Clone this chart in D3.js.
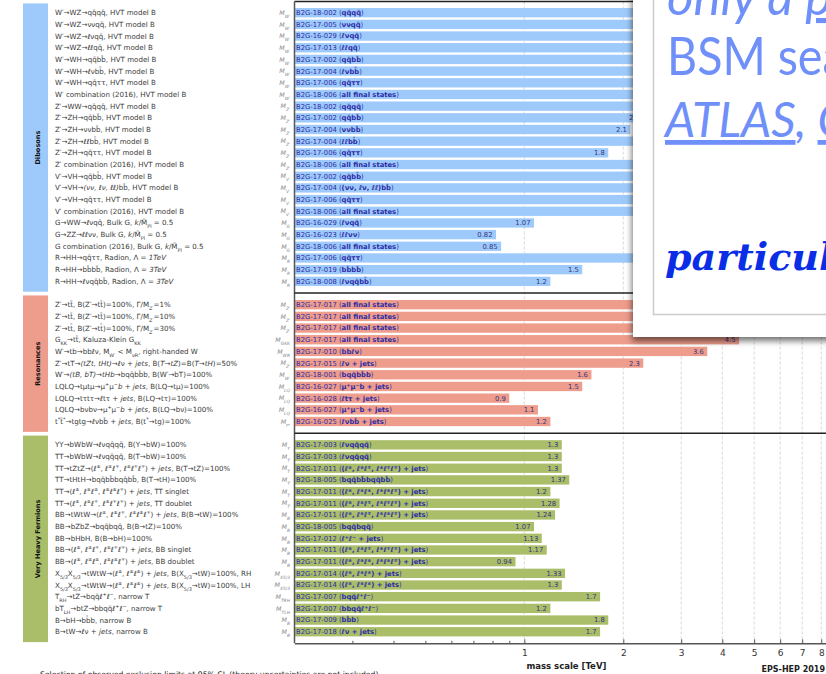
<!DOCTYPE html>
<html>
<head>
<meta charset="utf-8">
<script src="https://cdn.jsdelivr.net/npm/d3@7"></script>
<style>
  html, body { margin: 0; padding: 0; background: #fff; }
  svg { display: block; }
</style>
</head>
<body>
<svg id="chart" width="826" height="674"></svg>
<script>
// ---------------------------------------------------------------------------
// CMS B2G summary of observed exclusion limits (mass scale in TeV)
// Markup in strings: _{..} subscript, ^{..} superscript, ~{..} italic
// ---------------------------------------------------------------------------
const groupNames  = ["Dibosons", "Resonances", "Very Heavy Fermions"];
const groupColors = ["#9ecafb", "#ee9c8b", "#aabe69"];

const dibosonLabels = [
  "W′→WZ→qq\u0304qq\u0304, HVT model B",
  "W′→WZ→ννqq\u0304, HVT model B",
  "W′→WZ→ℓνqq\u0304, HVT model B",
  "W′→WZ→ℓℓqq\u0304, HVT model B",
  "W′→WH→qq\u0304bb\u0304, HVT model B",
  "W′→WH→ℓνbb\u0304, HVT model B",
  "W′→WH→qq\u0304ττ, HVT model B",
  "W′ combination (2016), HVT model B",
  "Z′→WW→qq\u0304qq\u0304, HVT model B",
  "Z′→ZH→qq\u0304bb\u0304, HVT model B",
  "Z′→ZH→ννbb\u0304, HVT model B",
  "Z′→ZH→ℓℓbb\u0304, HVT model B",
  "Z′→ZH→qq\u0304ττ, HVT model B",
  "Z′ combination (2016), HVT model B",
  "V′→VH→qq\u0304bb\u0304, HVT model B",
  "V′→VH→~{(νν, ℓν, ℓℓ)}bb\u0304, HVT model B",
  "V′→VH→qq\u0304ττ, HVT model B",
  "V′ combination (2016), HVT model B",
  "G→WW→ℓνqq\u0304, Bulk G, ~{k}/M\u0304_{Pl} = 0.5",
  "G→ZZ→ℓℓνν, Bulk G, ~{k}/M\u0304_{Pl} = 0.5",
  "G combination (2016), Bulk G, ~{k}/M\u0304_{Pl} = 0.5",
  "R→HH→qq\u0304ττ, Radion, Λ = ~{1TeV}",
  "R→HH→bb\u0304bb\u0304, Radion, Λ = ~{3TeV}",
  "R→HH→ℓνqq\u0304bb\u0304, Radion, Λ = ~{3TeV}"
];
const dibosonMass = [
  "M_{W′}", "M_{W′}", "M_{W′}", "M_{W′}", "M_{W′}", "M_{W′}", "M_{W′}", "M_{W′}",
  "M_{Z′}", "M_{Z′}", "M_{Z′}", "M_{Z′}", "M_{Z′}", "M_{Z′}",
  "M_{V′}", "M_{V′}", "M_{V′}", "M_{V′}",
  "M_{G}", "M_{G}", "M_{G}", "M_{R}", "M_{R}", "M_{R}"
];
const dibosonAnalyses = [
  "B2G-18-002", "B2G-17-005", "B2G-16-029", "B2G-17-013", "B2G-17-002", "B2G-17-004",
  "B2G-17-006", "B2G-18-006", "B2G-18-002", "B2G-17-002", "B2G-17-004", "B2G-17-004",
  "B2G-17-006", "B2G-18-006", "B2G-17-002", "B2G-17-004", "B2G-17-006", "B2G-18-006",
  "B2G-16-029", "B2G-16-023", "B2G-18-006", "B2G-17-006", "B2G-17-019", "B2G-18-008"
];
const dibosonFinals = [
  "qq\u0304qq\u0304", "ννqq\u0304", "ℓνqq\u0304", "ℓℓqq\u0304", "qq\u0304bb\u0304", "ℓνbb\u0304",
  "qq\u0304ττ", "all final states", "qq\u0304qq\u0304", "qq\u0304bb\u0304", "ννbb\u0304", "ℓℓbb\u0304",
  "qq\u0304ττ", "all final states", "qq\u0304bb\u0304", "(νν, ℓν, ℓℓ)bb\u0304", "qq\u0304ττ", "all final states",
  "ℓνqq\u0304", "ℓℓνν", "all final states", "qq\u0304ττ", "bb\u0304bb\u0304", "ℓνqq\u0304bb\u0304"
];
const dibosonLimits = [
  3.8, 3.5, 2.9, 2.6, 2.5, 2.8, 2.7, 4.5,
  3.6, 2.3, 2.1, 2.5, 1.8, 4.1,
  2.8, 2.9, 2.7, 4.6,
  1.07, 0.82, 0.85, 2.7, 1.5, 1.2
];

const resonanceLabels = [
  "Z′→tt\u0304, B(Z′→tt\u0304)=100%, Γ/M_{Z′}=1%",
  "Z′→tt\u0304, B(Z′→tt\u0304)=100%, Γ/M_{Z′}=10%",
  "Z′→tt\u0304, B(Z′→tt\u0304)=100%, Γ/M_{Z′}=30%",
  "G_{KK}→tt\u0304, Kaluza-Klein G_{KK}",
  "W′→tb→bbℓν, M_{W′} < M_{νR}, right-handed W",
  "Z′→tT→~{(tZt, tHt)}→ℓν + ~{jets}, B(~{T}→~{tZ})=B(~{T}→~{tH})=50%",
  "W′→~{(tB, bT)}→~{tHb}→bqq\u0304bb\u0304b, B(W′→bT)=100%",
  "LQLQ→tμtμ→μ^{+}μ^{−}~{b + jets}, B(LQ→tμ)=100%",
  "LQLQ→tτtτ→ℓtτ + ~{jets}, B(LQ→tτ)=100%",
  "LQLQ→bνbν→μ^{+}μ^{−}~{b + jets}, B(LQ→bν)=100%",
  "t^{*}t\u0304^{*}→tgtg→ℓνbb\u0304 + ~{jets}, B(t^{*}→tg)=100%"
];
const resonanceMass = [
  "M_{Z′}", "M_{Z′}", "M_{Z′}", "M_{GKK}", "M_{WR}", "M_{Z′}", "M_{W′}",
  "M_{LQ}", "M_{LQ}", "M_{LQ}", "M_{t*}"
];
const resonanceAnalyses = [
  "B2G-17-017", "B2G-17-017", "B2G-17-017", "B2G-17-017", "B2G-17-010", "B2G-17-015",
  "B2G-18-001", "B2G-16-027", "B2G-16-028", "B2G-16-027", "B2G-16-025"
];
const resonanceFinals = [
  "all final states", "all final states", "all final states", "all final states", "bbℓν",
  "ℓν + jets", "bqq\u0304bb\u0304b", "μ^{+}μ^{−}b + jets", "ℓtτ + jets", "μ^{+}μ^{−}b + jets",
  "ℓνbb\u0304 + jets"
];
const resonanceLimits = [3.8, 5.25, 6.65, 4.5, 3.6, 2.3, 1.6, 1.5, 0.9, 1.1, 1.2];

const fermionLabels = [
  "YY→bWbW→ℓνqq\u0304qq\u0304, B(Y→bW)=100%",
  "TT→bWbW→ℓνqq\u0304qq\u0304, B(T→bW)=100%",
  "TT→tZtZ→(ℓ^{±}, ℓ^{±}ℓ^{∓}, ℓ^{±}ℓ^{∓}ℓ^{∓}) + ~{jets}, B(T→tZ)=100%",
  "TT→tHtH→bqq\u0304bb\u0304bqq\u0304bb\u0304, B(T→tH)=100%",
  "TT→(ℓ^{±}, ℓ^{±}ℓ^{±}, ℓ^{±}ℓ^{±}ℓ^{∓}) + ~{jets}, TT singlet",
  "TT→(ℓ^{±}, ℓ^{±}ℓ^{∓}, ℓ^{±}ℓ^{∓}ℓ^{∓}) + ~{jets}, TT doublet",
  "BB→tWtW→(ℓ^{±}, ℓ^{±}ℓ^{∓}, ℓ^{±}ℓ^{±}ℓ^{∓}) + ~{jets}, B(B→tW)=100%",
  "BB→bZbZ→bqq\u0304bqq\u0304, B(B→tZ)=100%",
  "BB→bHbH, B(B→bH)=100%",
  "BB→(ℓ^{±}, ℓ^{±}ℓ^{∓}, ℓ^{±}ℓ^{∓}ℓ^{∓}) + ~{jets}, BB singlet",
  "BB→(ℓ^{±}, ℓ^{±}ℓ^{±}, ℓ^{±}ℓ^{±}ℓ^{∓}) + ~{jets}, BB doublet",
  "X_{5/3}X_{5/3}→tWtW→(ℓ^{±}, ℓ^{±}ℓ^{±}) + ~{jets}, B(X_{5/3}→tW)=100%, RH",
  "X_{5/3}X_{5/3}→tWtW→(ℓ^{±}, ℓ^{±}ℓ^{±}) + ~{jets}, B(X_{5/3}→tW)=100%, LH",
  "T_{RH}→tZ→bqq\u0304ℓ^{+}ℓ^{−}, narrow T",
  "bT_{LH}→btZ→bbqq\u0304ℓ^{+}ℓ^{−}, narrow T",
  "B→bH→bb\u0304b, narrow B",
  "B→tW→ℓν + ~{jets}, narrow B"
];
const fermionMass = [
  "M_{Y}", "M_{T}", "M_{T}", "M_{T}", "M_{T}", "M_{T}",
  "M_{B}", "M_{B}", "M_{B}", "M_{B}", "M_{B}",
  "M_{X5/3}", "M_{X5/3}", "M_{TRH}", "M_{TLH}", "M_{B}", "M_{B}"
];
const fermionAnalyses = [
  "B2G-17-003", "B2G-17-003", "B2G-17-011", "B2G-18-005", "B2G-17-011", "B2G-17-011",
  "B2G-17-011", "B2G-18-005", "B2G-17-012", "B2G-17-011", "B2G-17-011", "B2G-17-014",
  "B2G-17-014", "B2G-17-007", "B2G-17-007", "B2G-17-009", "B2G-17-018"
];
const fermionFinals = [
  "ℓνqq\u0304qq\u0304", "ℓνqq\u0304qq\u0304",
  "(ℓ^{±}, ℓ^{±}ℓ^{∓}, ℓ^{±}ℓ^{∓}ℓ^{∓}) + jets",
  "bqq\u0304bb\u0304bqq\u0304bb\u0304",
  "(ℓ^{±}, ℓ^{±}ℓ^{±}, ℓ^{±}ℓ^{±}ℓ^{∓}) + jets",
  "(ℓ^{±}, ℓ^{±}ℓ^{∓}, ℓ^{±}ℓ^{∓}ℓ^{∓}) + jets",
  "(ℓ^{±}, ℓ^{±}ℓ^{∓}, ℓ^{±}ℓ^{±}ℓ^{∓}) + jets",
  "bqq\u0304bqq\u0304",
  "ℓ^{+}ℓ^{−} + jets",
  "(ℓ^{±}, ℓ^{±}ℓ^{∓}, ℓ^{±}ℓ^{∓}ℓ^{∓}) + jets",
  "(ℓ^{±}, ℓ^{±}ℓ^{±}, ℓ^{±}ℓ^{±}ℓ^{∓}) + jets",
  "(ℓ^{±}, ℓ^{±}ℓ^{±}) + jets", "(ℓ^{±}, ℓ^{±}ℓ^{±}) + jets",
  "bqq\u0304ℓ^{+}ℓ^{−}", "bbqq\u0304ℓ^{+}ℓ^{−}", "bb\u0304b", "ℓν + jets"
];
const fermionLimits = [1.3, 1.3, 1.3, 1.37, 1.2, 1.28, 1.24, 1.07, 1.13, 1.17, 0.94, 1.33, 1.3, 1.7, 1.2, 1.8, 1.7];

const majorTicks = [1, 2, 3, 4, 5, 6, 7, 8, 9, 10];
const minorTicks = [0.3, 0.4, 0.5, 0.6, 0.7, 0.8, 0.9];
const axisTitle = "mass scale [TeV]";
const conference = "EPS-HEP 2019";
const caption = "Selection of observed exclusion limits at 95% CL (theory uncertainties are not included).";

// ---------------------------------------------------------------------------
// Assemble rows (one empty slot between groups)
// ---------------------------------------------------------------------------
const groupData = [
  [dibosonLabels, dibosonMass, dibosonAnalyses, dibosonFinals, dibosonLimits],
  [resonanceLabels, resonanceMass, resonanceAnalyses, resonanceFinals, resonanceLimits],
  [fermionLabels, fermionMass, fermionAnalyses, fermionFinals, fermionLimits]
];
const rows = [];
const groupSpans = [];
let slot = 0;
groupData.forEach(([labels, mass, ana, fin, lim], g) => {
  const first = slot;
  labels.forEach((lab, i) => {
    rows.push({ slot: slot++, group: g, label: lab, mass: mass[i], analysis: ana[i], final: fin[i], limit: lim[i] });
  });
  groupSpans.push({ group: g, first, last: slot - 1 });
  if (g < groupData.length - 1) slot++;
});
const nSlots = slot;

// ---------------------------------------------------------------------------
// Scales
// ---------------------------------------------------------------------------
const svg = d3.select("#chart");
const plotLeft = 294.5, plotTop = 1.5, plotBottom = 643.3;

const x = d3.scaleLog().domain([0.2, 10]).range([plotLeft, plotLeft + 142.8 * Math.log(50)]);
const y = d3.scaleBand().domain(d3.range(nSlots)).range([6.86, 6.86 + nSlots * 11.68])
  .paddingInner(0.2).paddingOuter(0.1);

const FONT = "'DejaVu Sans', sans-serif";

function rich(sel, str, size) {
  const re = /([_^~])\{([^}]*)\}/g;
  let last = 0, m;
  while ((m = re.exec(str))) {
    if (m.index > last) sel.append("tspan").text(str.slice(last, m.index));
    const t = sel.append("tspan").text(m[2]);
    if (m[1] === "_") t.attr("baseline-shift", "sub").style("font-size", (size * 0.7) + "px");
    else if (m[1] === "^") t.attr("baseline-shift", "super").style("font-size", (size * 0.7) + "px");
    else t.style("font-style", "italic");
    last = re.lastIndex;
  }
  if (last < str.length) sel.append("tspan").text(str.slice(last));
}

// ---------------------------------------------------------------------------
// Group side bars
// ---------------------------------------------------------------------------
const side = svg.append("g");
groupSpans.forEach(s => {
  const top = y(s.first) - 4.6;
  const bottom = y(s.last) + y.bandwidth() + 5.7;
  side.append("rect").attr("x", 23).attr("y", top).attr("width", 25).attr("height", bottom - top)
    .attr("fill", groupColors[s.group]);
  const cy = (top + bottom) / 2;
  side.append("text").attr("transform", `translate(37.5,${cy}) rotate(-90)`)
    .attr("text-anchor", "middle").attr("dy", "0.35em")
    .style("font-family", FONT).style("font-size", "6.6px").style("font-weight", "bold").attr("fill", "#111")
    .text(groupNames[s.group]);
});

// Row labels
const labG = svg.append("g").style("font-family", FONT);
rows.forEach(r => {
  const cy = y(r.slot) + y.bandwidth() / 2;
  const t = labG.append("text").attr("x", 55).attr("y", cy + 2.5)
    .style("font-size", "7.1px").attr("fill", "#3a3a3a");
  rich(t, r.label, 7.1);
  const m = labG.append("text").attr("x", 290).attr("y", cy + 2.2).attr("text-anchor", "end")
    .style("font-size", "6.3px").style("font-style", "italic").attr("fill", "#8a8a8a");
  rich(m, r.mass, 6.3);
});

// ---------------------------------------------------------------------------
// Grid, bars, labels
// ---------------------------------------------------------------------------
svg.append("g").selectAll("line").data(majorTicks).join("line")
  .attr("x1", d => x(d)).attr("x2", d => x(d))
  .attr("y1", plotTop).attr("y2", plotBottom)
  .attr("stroke", "#cfcfcf").attr("stroke-width", 0.8).attr("stroke-dasharray", "3,2");

svg.append("g").selectAll("rect").data(rows).join("rect")
  .attr("x", plotLeft).attr("y", d => y(d.slot))
  .attr("width", d => x(d.limit) - plotLeft).attr("height", y.bandwidth())
  .attr("fill", d => groupColors[d.group]);

const barText = svg.append("g").style("font-family", FONT).style("font-size", "6.8px");
rows.forEach(r => {
  const cy = y(r.slot) + y.bandwidth() / 2;
  const t = barText.append("text").attr("x", plotLeft + 1.5).attr("y", cy + 2.4).attr("fill", "#2c2ca6");
  t.append("tspan").text(r.analysis + " (");
  rich(t.append("tspan").style("font-weight", "bold"), r.final, 6.8);
  t.append("tspan").text(")");
  barText.append("text").attr("x", x(r.limit) - 3.5).attr("y", cy + 2.4)
    .attr("text-anchor", "end").attr("fill", "#35357e").text(String(r.limit));
});

// Frame lines and group separators
const frame = svg.append("g").attr("stroke", "#222").attr("fill", "none");
frame.append("line").attr("x1", plotLeft).attr("x2", 900).attr("y1", plotTop).attr("y2", plotTop).attr("stroke-width", 1.5);
frame.append("line").attr("x1", plotLeft).attr("x2", plotLeft).attr("y1", plotTop).attr("y2", plotBottom).attr("stroke", "#555").attr("stroke-width", 1.5);
groupSpans.slice(0, -1).forEach(s => {
  const yy = y(s.last + 1) + y.bandwidth() / 2;
  frame.append("line").attr("x1", plotLeft).attr("x2", 900).attr("y1", yy).attr("y2", yy).attr("stroke-width", 1.5);
});

// x axis
const axisG = svg.append("g").attr("transform", `translate(0,${plotBottom})`)
  .call(d3.axisBottom(x).tickValues(majorTicks).tickFormat(d3.format("d")).tickSize(-4).tickSizeOuter(0).tickPadding(6));
axisG.select(".domain").attr("stroke", "#555").attr("stroke-width", 1.5);
axisG.selectAll(".tick line").attr("stroke", "#555").attr("stroke-width", 1);
axisG.selectAll(".tick text").style("font-family", FONT).style("font-size", "9px").attr("fill", "#333");
const minorG = svg.append("g").attr("transform", `translate(0,${plotBottom})`)
  .call(d3.axisBottom(x).tickValues(minorTicks).tickFormat("").tickSize(-2.5).tickSizeOuter(0));
minorG.select(".domain").remove();
minorG.selectAll(".tick line").attr("stroke", "#555");

svg.append("text").attr("x", 566.4).attr("y", 668.8).attr("text-anchor", "middle")
  .style("font-family", FONT).style("font-size", "8.5px").style("font-weight", "bold").attr("fill", "#222")
  .text(axisTitle);
svg.append("text").attr("x", 825).attr("y", 672).attr("text-anchor", "end")
  .style("font-family", FONT).style("font-size", "8px").style("font-weight", "bold").attr("fill", "#222")
  .text(conference);
svg.append("text").attr("x", 40).attr("y", 676.5)
  .style("font-family", FONT).style("font-size", "7.7px").attr("fill", "#222")
  .text(caption);

// ---------------------------------------------------------------------------
// Slide note panel overlapping the upper right of the chart
// ---------------------------------------------------------------------------
const defs = svg.append("defs");
const f = defs.append("filter").attr("id", "panelShadow").attr("x", "-20%").attr("y", "-20%").attr("width", "140%").attr("height", "140%");
f.append("feDropShadow").attr("dx", -1).attr("dy", 4).attr("stdDeviation", 3)
  .attr("flood-color", "#000").attr("flood-opacity", 0.55);

const panel = svg.append("g");
panel.append("rect").attr("x", 633).attr("y", -30).attr("width", 240).attr("height", 367)
  .attr("fill", "#fff").attr("filter", "url(#panelShadow)");
panel.append("rect").attr("x", 653.5).attr("y", -30).attr("width", 220).attr("height", 344.5)
  .attr("fill", "none").attr("stroke", "#cdcdcd").attr("stroke-width", 1.6);

const noteFont = "Lato, 'Open Sans', sans-serif";
const l1 = panel.append("text").attr("x", 667).attr("y", 15)
  .style("font-family", noteFont).style("font-size", "51px").style("font-style", "italic").attr("fill", "#6f8ff9");
l1.append("tspan").text("only a ");
l1.append("tspan").style("text-decoration", "underline").text("partial");
panel.append("text").attr("transform", "translate(667,75) scale(0.88,1)")
  .style("font-family", noteFont).style("font-size", "53px").attr("fill", "#6f8ff9")
  .text("BSM searches");
const l3 = panel.append("text").attr("x", 665).attr("y", 137)
  .style("font-family", noteFont).style("font-size", "48px").style("font-style", "italic").attr("fill", "#6f8ff9");
l3.append("tspan").style("text-decoration", "underline").text("ATLAS");
l3.append("tspan").text(", ");
l3.append("tspan").style("text-decoration", "underline").text("CMS");
panel.append("text").attr("x", 665).attr("y", 270)
  .style("font-family", "'DejaVu Serif', serif").style("font-size", "38px").style("font-style", "italic")
  .style("font-weight", "bold").attr("fill", "#0a2de6")
  .text("particularly");
</script>
</body>
</html>
